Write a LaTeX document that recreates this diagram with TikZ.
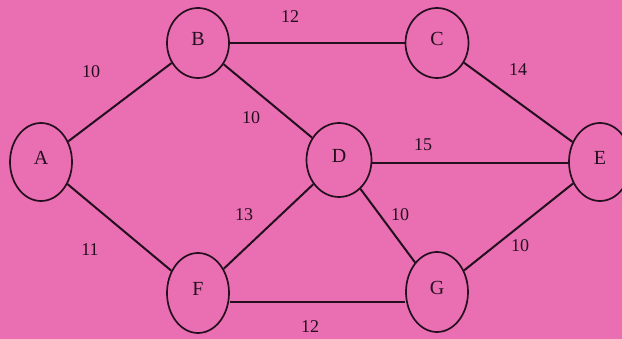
\documentclass[tikz,border=0pt]{standalone}
\usepackage{fontspec}
\setmainfont{Liberation Serif}
\usetikzlibrary{shapes.geometric}
\definecolor{bgpink}{RGB}{234,110,178}
\definecolor{ink}{RGB}{35,15,30}
\tikzset{
  vert/.style={ellipse, draw=ink, line width=1.7pt, fill=bgpink, inner sep=0pt,
    minimum width=62pt, minimum height=76pt, font=\fontsize{20}{20}\selectfont, text=ink},
  conn/.style={draw=ink, line width=2pt},
  wt/.style={font=\fontsize{18}{18}\selectfont, text=ink, inner sep=0pt}
}
\newcommand{\vlab}[1]{\raisebox{4pt}[\height][\depth]{#1}}
\begin{document}
\begin{tikzpicture}[x=1pt,y=-1pt]
\fill[bgpink] (0,0) rectangle (622,339);
\useasboundingbox (0,0) rectangle (622,339);
\node[vert, minimum height=78pt] (A) at (41,162) {\vlab{A}};
\node[vert, minimum height=70pt] (B) at (198,43) {\vlab{B}};
\node[vert, minimum width=63pt, minimum height=70pt] (C) at (437,43) {\vlab{C}};
\node[vert, minimum width=65pt, minimum height=74pt] (D) at (339,160) {\vlab{D}};
\node[vert, minimum height=78pt] (E) at (600,162) {\vlab{E}};
\node[vert, minimum height=80pt] (F) at (198,293) {\vlab{F}};
\node[vert, minimum height=80pt] (G) at (437,292) {\vlab{G}};
\draw[conn] (A) -- (B);
\draw[conn] (B) -- (C);
\draw[conn] (B) -- (D);
\draw[conn] (C) -- (E);
\draw[conn] (D.east |- 0,163) -- (E.west |- 0,163);
\draw[conn] (A) -- (F);
\draw[conn] (F) -- (D);
\draw[conn] (F.east |- 0,302) -- (G.west |- 0,302);
\draw[conn] (D) -- (G);
\draw[conn] (G) -- (E);
\node[wt] (wAB) at (91,72) {10};
\node[wt] (wBC) at (290,17) {12};
\node[wt] (wBD) at (251,118) {10};
\node[wt] (wCE) at (518,70) {14};
\node[wt] (wDE) at (423,145) {15};
\node[wt] (wFD) at (244,215) {13};
\node[wt] (wAF) at (90,250) {11};
\node[wt] (wDG) at (400,215) {10};
\node[wt] (wGE) at (520,246) {10};
\node[wt] (wFG) at (310,327) {12};
\end{tikzpicture}
\end{document}
